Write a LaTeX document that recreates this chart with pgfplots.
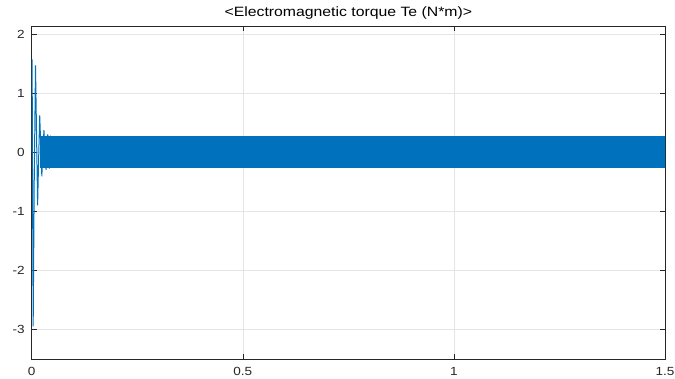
\documentclass[border=0pt]{standalone}
\usepackage{pgfplots}
\pgfplotsset{compat=1.18}
\usepackage{fontspec}
\setmainfont{Liberation Sans}
\definecolor{mblue}{RGB}{0,114,189}
\definecolor{axc}{RGB}{38,38,38}
\begin{document}
\begin{tikzpicture}
\path[use as bounding box] (-31.7pt,-19.7pt) rectangle (643.3pt,359.3pt);
\begin{axis}[
  at={(0,0)}, anchor=south west,
  scale only axis, width=633.3pt, height=333.3pt,
  xmin=0, xmax=1.5, ymin=-3.508, ymax=2.135,
  xtick={0,0.5,1,1.5}, xticklabels={0,0.5,1,1.5},
  ytick={-3,-2,-1,0,1,2}, yticklabels={-3,-2,-1,0,1,2},
  tick align=inside, major tick length=5pt,
  grid=major, major grid style={black!10, line width=0.5pt},
  axis line style={axc, line width=0.6pt},
  tick style={axc, line width=0.6pt},
  ticklabel style={font=\fontsize{11.8}{13}\selectfont, text=axc, xscale=1.15},
  xticklabel style={yshift=-4.2pt},
  yticklabel style={xshift=-2.5pt},
  title={<Electromagnetic torque Te (N*m)>},
  title style={font=\fontsize{13.5}{15}\selectfont, text=black, at={(0.5,1)}, anchor=base, yshift=3.7pt, xscale=1.17},
]
\addplot[draw=mblue, fill=mblue, line width=0.3pt] coordinates {
  (0.021,0.265) (1.5,0.265) (1.5,-0.255) (0.021,-0.255)
} -- cycle;
\addplot[mblue, line width=1pt] coordinates {
  (0,0) (0.0005,1.0) (0.001,1.57) (0.002,-0.5) (0.0035,-2.95) (0.006,-0.5)
  (0.009,1.47) (0.0115,0.3) (0.014,-0.9) (0.0165,-0.1) (0.019,0.62)
  (0.0215,0.1) (0.024,-0.41) (0.0265,0) (0.029,0.37) (0.0315,0)
  (0.034,-0.3) (0.036,0) (0.038,0.3) (0.040,0) (0.042,-0.28) (0.044,0.28)
};
\end{axis}
\end{tikzpicture}
\end{document}
